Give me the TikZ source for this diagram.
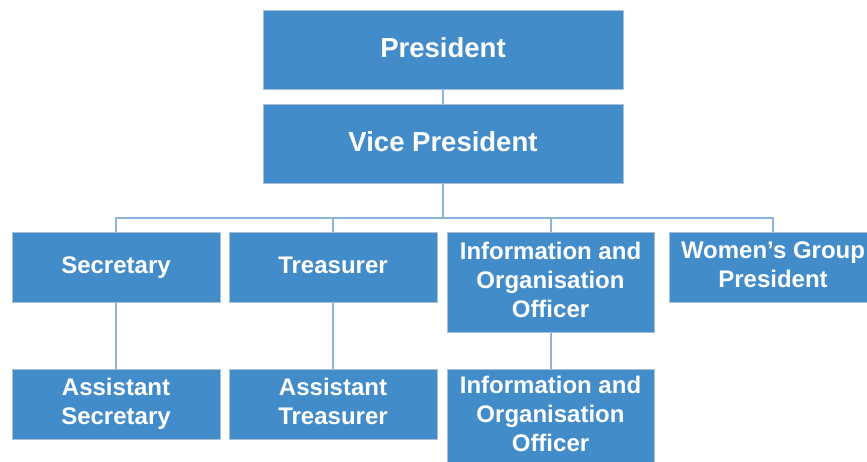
\documentclass[tikz,border=0pt]{standalone}
\usepackage{fontspec}
\setmainfont{Liberation Sans}
\usepackage{tikz}
\usetikzlibrary{positioning}
\definecolor{boxblue}{HTML}{438CCA}
\definecolor{boxedge}{HTML}{A9BFD3}
\definecolor{linkblue}{HTML}{8DB5DB}
\newcommand{\boxstrut}{\vrule height 17.5pt depth 5pt width 0pt}

\begin{document}
\begin{tikzpicture}[x=1pt,y=-1pt,-,semithick]
	\tikzstyle{post}=[draw=boxedge, fill=boxblue, text=white, align=center, inner sep=0pt,
		font=\bfseries\fontsize{24}{29}\selectfont, minimum width=208pt, minimum height=70pt, anchor=north,
		execute at begin node=\boxstrut, execute at end node=\boxstrut]
	\tikzstyle{head}=[post, minimum width=360pt, minimum height=79pt, font=\bfseries\fontsize{27.5}{32}\selectfont]
	\tikzstyle{tall}=[post, minimum width=207pt, minimum height=100pt]
	\tikzstyle{link}=[draw=linkblue, line width=2pt]
	\useasboundingbox (0,0) rectangle (867,462);

	\node[head] (P) at (443,10) {President};
	\node[head] (VP) at (443,104) {Vice President};

	\node[post] (S) at (116,232) {Secretary};
	\node[post] (T) at (333,232) {Treasurer};
	\node[tall] (I) at (550.5,232) {Information and\\Organisation\\Officer};
	\node[post] (W) at (773,232) {Women’s Group\\President};

	\node[post] (AS) at (116,369) {Assistant\\Secretary};
	\node[post] (AT) at (333,369) {Assistant\\Treasurer};
	\node[tall, minimum height=94pt] (AI) at (550.5,369) {Information and\\Organisation\\Officer};

	\draw[link] (P) -- (VP);
	\foreach \c in {S,T,I,W}{
		\draw[link] (VP.south) -- ++(0,34) -| (\c.north);
	}
	\draw[link] (S) -- (AS);
	\draw[link] (T) -- (AT);
	\draw[link] (I) -- (AI);
\end{tikzpicture}
\end{document}
